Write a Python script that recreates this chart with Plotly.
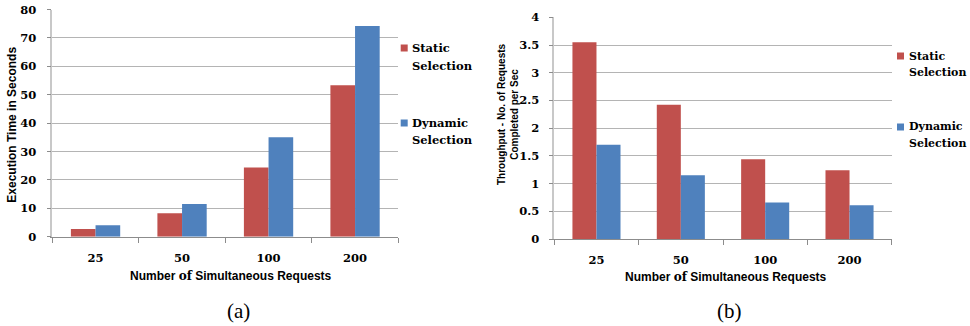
import plotly.graph_objects as go

# ---- data ----
categories = ["25", "50", "100", "200"]
exec_static = [2.7, 8.3, 24.4, 53.3]
exec_dynamic = [4.0, 11.5, 35.0, 74.2]
thr_static = [3.55, 2.42, 1.44, 1.24]
thr_dynamic = [1.70, 1.15, 0.66, 0.61]
series_lines = [["Static", "Selection"], ["Dynamic", "Selection"]]
colors = ["#C0504D", "#4F81BD"]

W, H = 970, 326
def xp(px):
    return px / W
def yp(py):
    return 1 - py / H

SERIF = "DejaVu Serif"
SANS = "Liberation Sans"
GRID = "#b4b4b4"

fig = go.Figure()
for vals, col in zip([exec_static, exec_dynamic], colors):
    fig.add_trace(go.Bar(x=categories, y=vals, marker=dict(color=col, line=dict(width=0)),
                         xaxis="x", yaxis="y", showlegend=False))
for vals, col in zip([thr_static, thr_dynamic], colors):
    fig.add_trace(go.Bar(x=categories, y=vals, marker=dict(color=col, line=dict(width=0)),
                         xaxis="x2", yaxis="y2", showlegend=False))

tickfont = dict(family=SERIF, size=11.5, color="black", weight="bold")
common_x = dict(type="category", showline=True, linecolor="#8c8c8c", linewidth=1,
                ticks="outside", tickson="boundaries", ticklen=5, tickcolor="#8c8c8c",
                tickfont=tickfont, showgrid=False, automargin=False, ticklabelstandoff=10,
                fixedrange=True)
common_y = dict(showline=True, linecolor="#c8c8c8", linewidth=1.5, ticks="outside",
                ticklen=4, tickcolor="#8c8c8c", showgrid=True, gridcolor=GRID, gridwidth=1,
                tickfont=tickfont, zeroline=False, automargin=False, fixedrange=True)

fig.update_layout(
    width=W, height=H, margin=dict(l=0, r=0, t=0, b=0),
    template="none", paper_bgcolor="white", plot_bgcolor="white",
    barmode="group", bargap=0.43, bargroupgap=0,
    showlegend=False,
    xaxis=dict(domain=[xp(52.3), xp(398.3)], anchor="y", **common_x),
    yaxis=dict(domain=[yp(236.7), yp(9.5)], anchor="x", range=[0, 80], dtick=10,
               ticklabelstandoff=8, **common_y),
    xaxis2=dict(domain=[xp(554.3), xp(891.7)], anchor="y2", **common_x),
    yaxis2=dict(domain=[yp(239), yp(17.3)], anchor="x2", range=[0, 4], dtick=0.5,
                ticklabelstandoff=7, **common_y),
)

ann = []
# axis titles
ann.append(dict(text="<b>Execution Time in Seconds</b>", x=xp(12), y=yp(124.7), textangle=-90,
                font=dict(family=SANS, size=12, color="black")))
ann.append(dict(text="<b>Number <span style='font-family:DejaVu Serif'>of</span> Simultaneous Requests</b>",
                x=xp(230.5), y=yp(276), font=dict(family=SANS, size=12, color="black")))
ann.append(dict(text="<b>Throughput - No. of Requests<br>Completed per Sec</b>", x=xp(508), y=yp(114),
                textangle=-90, font=dict(family=SANS, size=10, color="black")))
ann.append(dict(text="<b>Number <span style='font-family:DejaVu Serif'>of</span> Simultaneous Requests</b>",
                x=xp(726), y=yp(276.7), font=dict(family=SANS, size=12, color="black")))
# captions
ann.append(dict(text="(a)", x=xp(238), y=yp(311), font=dict(family="Liberation Serif", size=21, color="black")))
ann.append(dict(text="(b)", x=xp(729), y=yp(311), font=dict(family="Liberation Serif", size=21, color="black")))

shapes = []
# legends (left chart, right chart): (square x, [(line1 y, line2 y) per series], font size)
legend_pos = [
    (400.7, [(48, 66), (123, 140)], 11.5),
    (897.0, [(56, 72.5), (127, 143.5)], 11),
]
for lx, ys, fs in legend_pos:
    for lines, col, (y1, y2) in zip(series_lines, colors, ys):
        shapes.append(dict(type="rect", xref="paper", yref="paper",
                           x0=xp(lx), x1=xp(lx + 7), y0=yp(y1 - 3.5), y1=yp(y1 + 3.5),
                           fillcolor=col, line=dict(width=0)))
        for txt, ty in zip(lines, (y1, y2)):
            ann.append(dict(text="<b>" + txt + "</b>", x=xp(lx + 9.5), y=yp(ty),
                            xanchor="left", yanchor="middle", align="left",
                            font=dict(family=SERIF, size=fs, color="black")))

for a in ann:
    a.setdefault("xref", "paper")
    a.setdefault("yref", "paper")
    a.setdefault("showarrow", False)
    a.setdefault("xanchor", "center")
    a.setdefault("yanchor", "middle")
fig.update_layout(annotations=ann, shapes=shapes)

fig.write_html("out.html", config={"displayModeBar": False},
               post_script="document.body.style.margin='0';document.body.style.overflow='hidden';")
